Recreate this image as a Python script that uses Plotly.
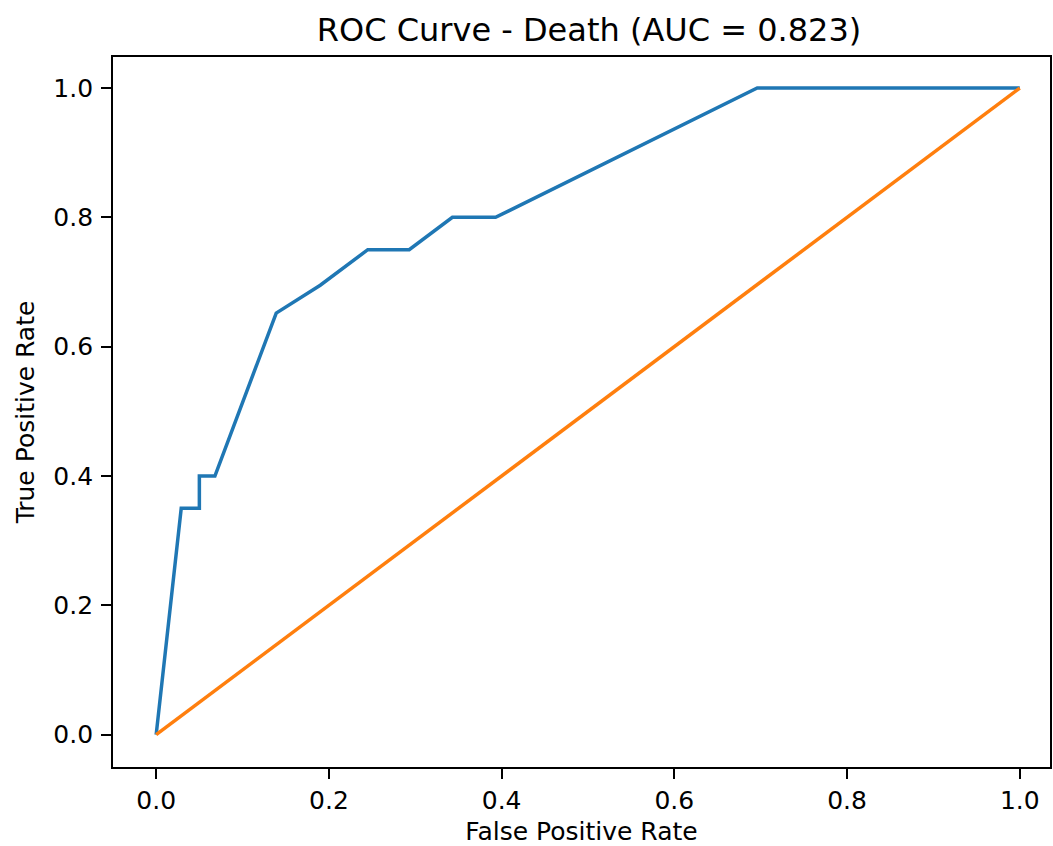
import plotly.graph_objects as go

fpr = [0.0, 0.029, 0.05, 0.05, 0.068, 0.139, 0.19, 0.245, 0.293, 0.343, 0.393, 0.696, 1.0]
tpr = [0.0, 0.35, 0.35, 0.40, 0.40, 0.652, 0.695, 0.75, 0.75, 0.80, 0.80, 1.0, 1.0]
diag_x = [0.0, 1.0]
diag_y = [0.0, 1.0]
ticks = [0.0, 0.2, 0.4, 0.6, 0.8, 1.0]
tick_labels = ["0.0", "0.2", "0.4", "0.6", "0.8", "1.0"]

FONT = "DejaVu Sans"

fig = go.Figure()
fig.add_trace(go.Scatter(x=fpr, y=tpr, mode="lines",
                         line=dict(color="#1f77b4", width=3.5), showlegend=False))
fig.add_trace(go.Scatter(x=diag_x, y=diag_y, mode="lines",
                         line=dict(color="#ff7f0e", width=3.5), showlegend=False))

axis_common = dict(
    showgrid=False, zeroline=False, showline=True, linecolor="black", linewidth=1.8,
    mirror=True, ticks="outside", ticklen=10, tickwidth=1.8, tickcolor="black",
    tickvals=ticks, ticktext=tick_labels,
    tickfont=dict(family=FONT, size=25, color="black"),
)
fig.update_xaxes(range=[-0.05, 1.035], title=dict(text="False Positive Rate",
                 font=dict(family=FONT, size=25, color="black"), standoff=10),
                 **axis_common)
fig.update_yaxes(range=[-0.05, 1.048], title=dict(text="True Positive Rate",
                 font=dict(family=FONT, size=25, color="black"), standoff=12),
                 ticklabelstandoff=3, **axis_common)

fig.update_layout(
    width=1053, height=846,
    margin=dict(l=113, r=1, t=57, b=79),
    plot_bgcolor="white", paper_bgcolor="white",
    title=dict(text="ROC Curve - Death (AUC = 0.823)", x=589 / 1053, xanchor="center",
               y=1 - 30 / 846, yanchor="middle",
               font=dict(family=FONT, size=32, color="black")),
)
fig.write_html("out.html", config={"displayModeBar": False},
               post_script="document.body.style.margin='0';document.body.style.overflow='hidden';")
